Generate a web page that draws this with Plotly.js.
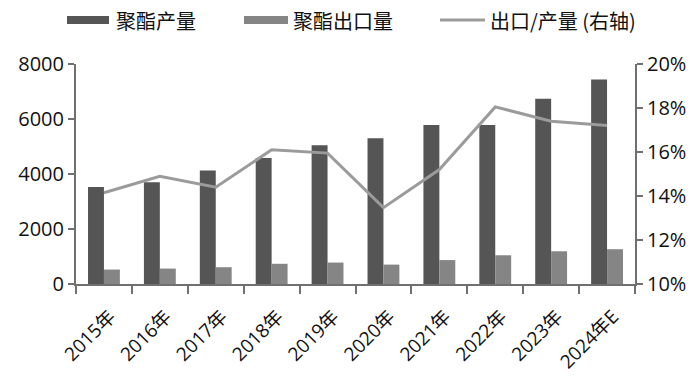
<!DOCTYPE html>
<html>
<head>
<meta charset="utf-8">
<script src="https://cdn.plot.ly/plotly-3.0.1.min.js"></script>
<style>html,body{margin:0;padding:0;background:#fff;}#chart{width:698px;height:379px;}</style>
</head>
<body>
<div id="chart"></div>
<script>
const categories = ['2015年','2016年','2017年','2018年','2019年','2020年','2021年','2022年','2023年','2024年E'];
const production = [3530, 3700, 4130, 4580, 5050, 5300, 5780, 5780, 6740, 7440];
const exports = [525, 560, 610, 735, 780, 705, 870, 1045, 1190, 1265];
const ratio = [0.1415, 0.149, 0.144, 0.161, 0.1595, 0.1347, 0.152, 0.1805, 0.174, 0.172];
const seriesNames = ['聚酯产量', '聚酯出口量', '出口/产量 (右轴)'];

const W = 698, H = 379;
const M = {l: 76, r: 63, t: 64, b: 95};
const PW = W - M.l - M.r, PH = H - M.t - M.b;
const px = x => (x - M.l) / PW;
const py = y => (H - M.b - y) / PH;

const FONT = '"Open Sans", "Noto Sans CJK SC", sans-serif';
const CJK = '"Noto Sans CJK SC", "Open Sans", sans-serif';
const DARK = '#555555', LIGHT = '#858585', LINE = '#9b9b9b', AXIS = '#707070';

const traces = [
  {type: 'bar', name: seriesNames[0], x: categories, y: production, marker: {color: DARK}, showlegend: false},
  {type: 'bar', name: seriesNames[1], x: categories, y: exports, marker: {color: LIGHT}, showlegend: false},
  {type: 'scatter', mode: 'lines', name: seriesNames[2], x: categories, y: ratio, yaxis: 'y2',
   line: {color: LINE, width: 3}, showlegend: false}
];

const legendY = 20;
const shapes = [
  {type: 'rect', xref: 'paper', yref: 'paper', x0: px(67), x1: px(109), y0: py(legendY + 4), y1: py(legendY - 4), fillcolor: DARK, line: {width: 0}},
  {type: 'rect', xref: 'paper', yref: 'paper', x0: px(244), x1: px(288), y0: py(legendY + 4), y1: py(legendY - 4), fillcolor: LIGHT, line: {width: 0}},
  {type: 'line', xref: 'paper', yref: 'paper', x0: px(440), x1: px(485), y0: py(legendY), y1: py(legendY), line: {color: LINE, width: 3}}
];
const annotations = [
  {xref: 'paper', yref: 'paper', x: px(114), y: py(legendY), xanchor: 'left', yanchor: 'middle', text: seriesNames[0], showarrow: false, font: {family: CJK, size: 20, color: '#111'}},
  {xref: 'paper', yref: 'paper', x: px(291), y: py(legendY), xanchor: 'left', yanchor: 'middle', text: seriesNames[1], showarrow: false, font: {family: CJK, size: 20, color: '#111'}},
  {xref: 'paper', yref: 'paper', x: px(488), y: py(legendY), xanchor: 'left', yanchor: 'middle', text: seriesNames[2], showarrow: false, font: {family: CJK, size: 20, color: '#111'}}
];

const layout = {
  width: W, height: H,
  margin: M,
  paper_bgcolor: '#fff', plot_bgcolor: '#fff',
  font: {family: FONT, size: 20, color: '#111'},
  barmode: 'group',
  bargap: 0.43,
  bargroupgap: 0,
  showlegend: false,
  xaxis: {
    type: 'category',
    showline: true, linecolor: AXIS, linewidth: 2,
    ticks: 'outside', ticklen: 8, tickcolor: AXIS, tickwidth: 2,
    tickson: 'boundaries',
    tickangle: -45,
    ticklabelstandoff: 12,
    ticklabelshift: 6,
    tickfont: {family: FONT, size: 19, color: '#111'},
    showgrid: false, zeroline: false
  },
  yaxis: {
    range: [0, 8000], dtick: 2000,
    showline: true, linecolor: AXIS, linewidth: 2,
    ticks: 'outside', ticklen: 6, tickcolor: AXIS, tickwidth: 2,
    tickfont: {family: FONT, size: 20, color: '#111'},
    showgrid: false, zeroline: false
  },
  yaxis2: {
    overlaying: 'y', side: 'right',
    range: [0.10, 0.20], dtick: 0.02, tickformat: '.0%',
    showline: true, linecolor: AXIS, linewidth: 2,
    ticks: 'outside', ticklen: 6, tickcolor: AXIS, tickwidth: 2,
    tickfont: {family: FONT, size: 20, color: '#111'},
    showgrid: false, zeroline: false
  },
  shapes: shapes,
  annotations: annotations
};

Plotly.newPlot('chart', traces, layout, {displayModeBar: false, staticPlot: true});
</script>
</body>
</html>
